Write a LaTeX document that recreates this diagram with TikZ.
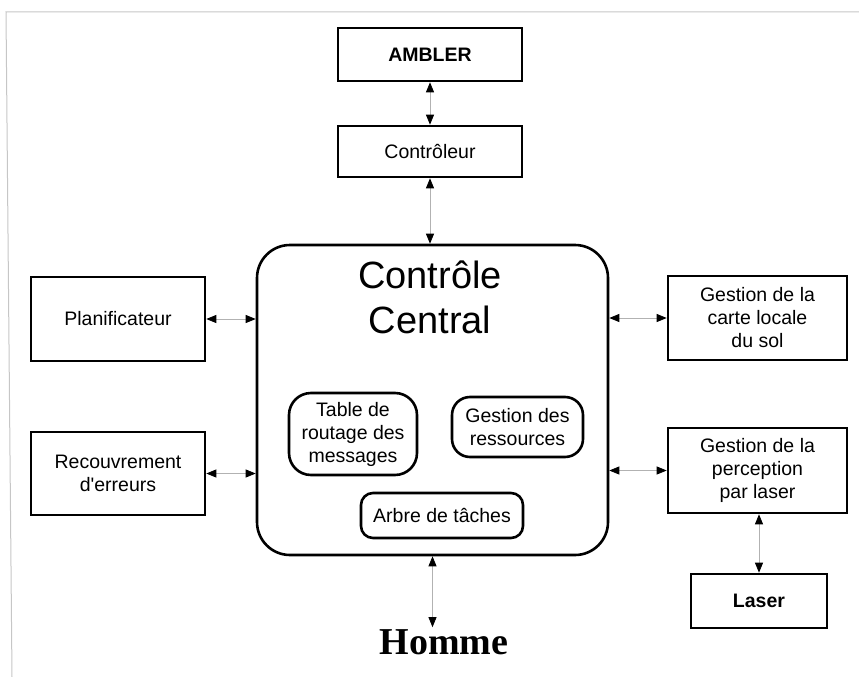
\documentclass[tikz,border=0pt]{standalone}
\usepackage{fontspec}
\setmainfont{Liberation Sans}
\newfontfamily\timesfont{Liberation Serif}
\usetikzlibrary{arrows.meta}

\begin{document}
\begin{tikzpicture}[x=1pt,y=-1pt,
  box/.style={draw,line width=2.6pt,inner sep=0pt,align=center,font=\fontsize{19.5}{23}\selectfont},
  rbox/.style={box,rounded corners=18pt},
  link/.style={draw=gray!60,line width=0.8pt,{Triangle[length=10pt,width=8pt,color=black]}-{Triangle[length=10pt,width=8pt,color=black]}}]

\useasboundingbox (0,0) rectangle (859,677);
\draw[gray!45,line width=1pt] (859,12) -- (6,12) -- (12,677);  % scan frame

\node[box,minimum width=184,minimum height=53,font=\fontsize{19.5}{23}\selectfont\bfseries] (ambler) at (430,54.5) {AMBLER};
\node[box,minimum width=184,minimum height=51] (ctrl) at (430,151.5) {Contrôleur};

\node[draw,line width=2.6pt,rounded corners=33pt,minimum width=351,minimum height=310] (central) at (432.5,400) {};
\node[align=center,font=\fontsize{38}{45}\selectfont] (titre) at (430,297) {Contrôle\\Central};

\node[rbox,minimum width=128,minimum height=82,rounded corners=22pt] (table) at (353,434) {Table de\\routage des\\messages};
\node[rbox,minimum width=131,minimum height=60] (ress) at (517.5,427) {Gestion des\\ressources};
\node[rbox,minimum width=162,minimum height=45,rounded corners=12pt] (arbre) at (442,515.5) {Arbre de tâches};

\node[box,minimum width=174,minimum height=84] (plan) at (118,319) {Planificateur};
\node[box,minimum width=174,minimum height=83] (recouv) at (118,473.5) {Recouvrement\\d\textquotesingle erreurs};

\node[box,minimum width=179,minimum height=84] (carte) at (757.5,318) {Gestion de la\\carte locale\\du sol};
\node[box,minimum width=179,minimum height=85] (percep) at (757.5,470.5) {Gestion de la\\perception\\par laser};
\node[box,minimum width=136,minimum height=54,font=\fontsize{19.5}{23}\selectfont\bfseries] (laser) at (759,601) {Laser};

\node[font=\timesfont\bfseries\fontsize{38}{40}\selectfont,inner sep=2pt] (homme) at (444,642) {Homme};

\draw[link] (ambler.south) -- (ctrl.north);
\draw[link] (ctrl.south) -- (ctrl.south |- central.north);
\draw[link] (plan.east) -- (plan.east -| central.west);
\draw[link] (recouv.east) -- (recouv.east -| central.west);
\draw[link] (central.east |- carte.west) -- (carte.west);
\draw[link] (central.east |- percep.west) -- (percep.west);
\draw[link] (percep.south -| laser.north) -- (laser.north);
\draw[link] (central.south) -- (central.south |- homme.north);

\end{tikzpicture}
\end{document}
